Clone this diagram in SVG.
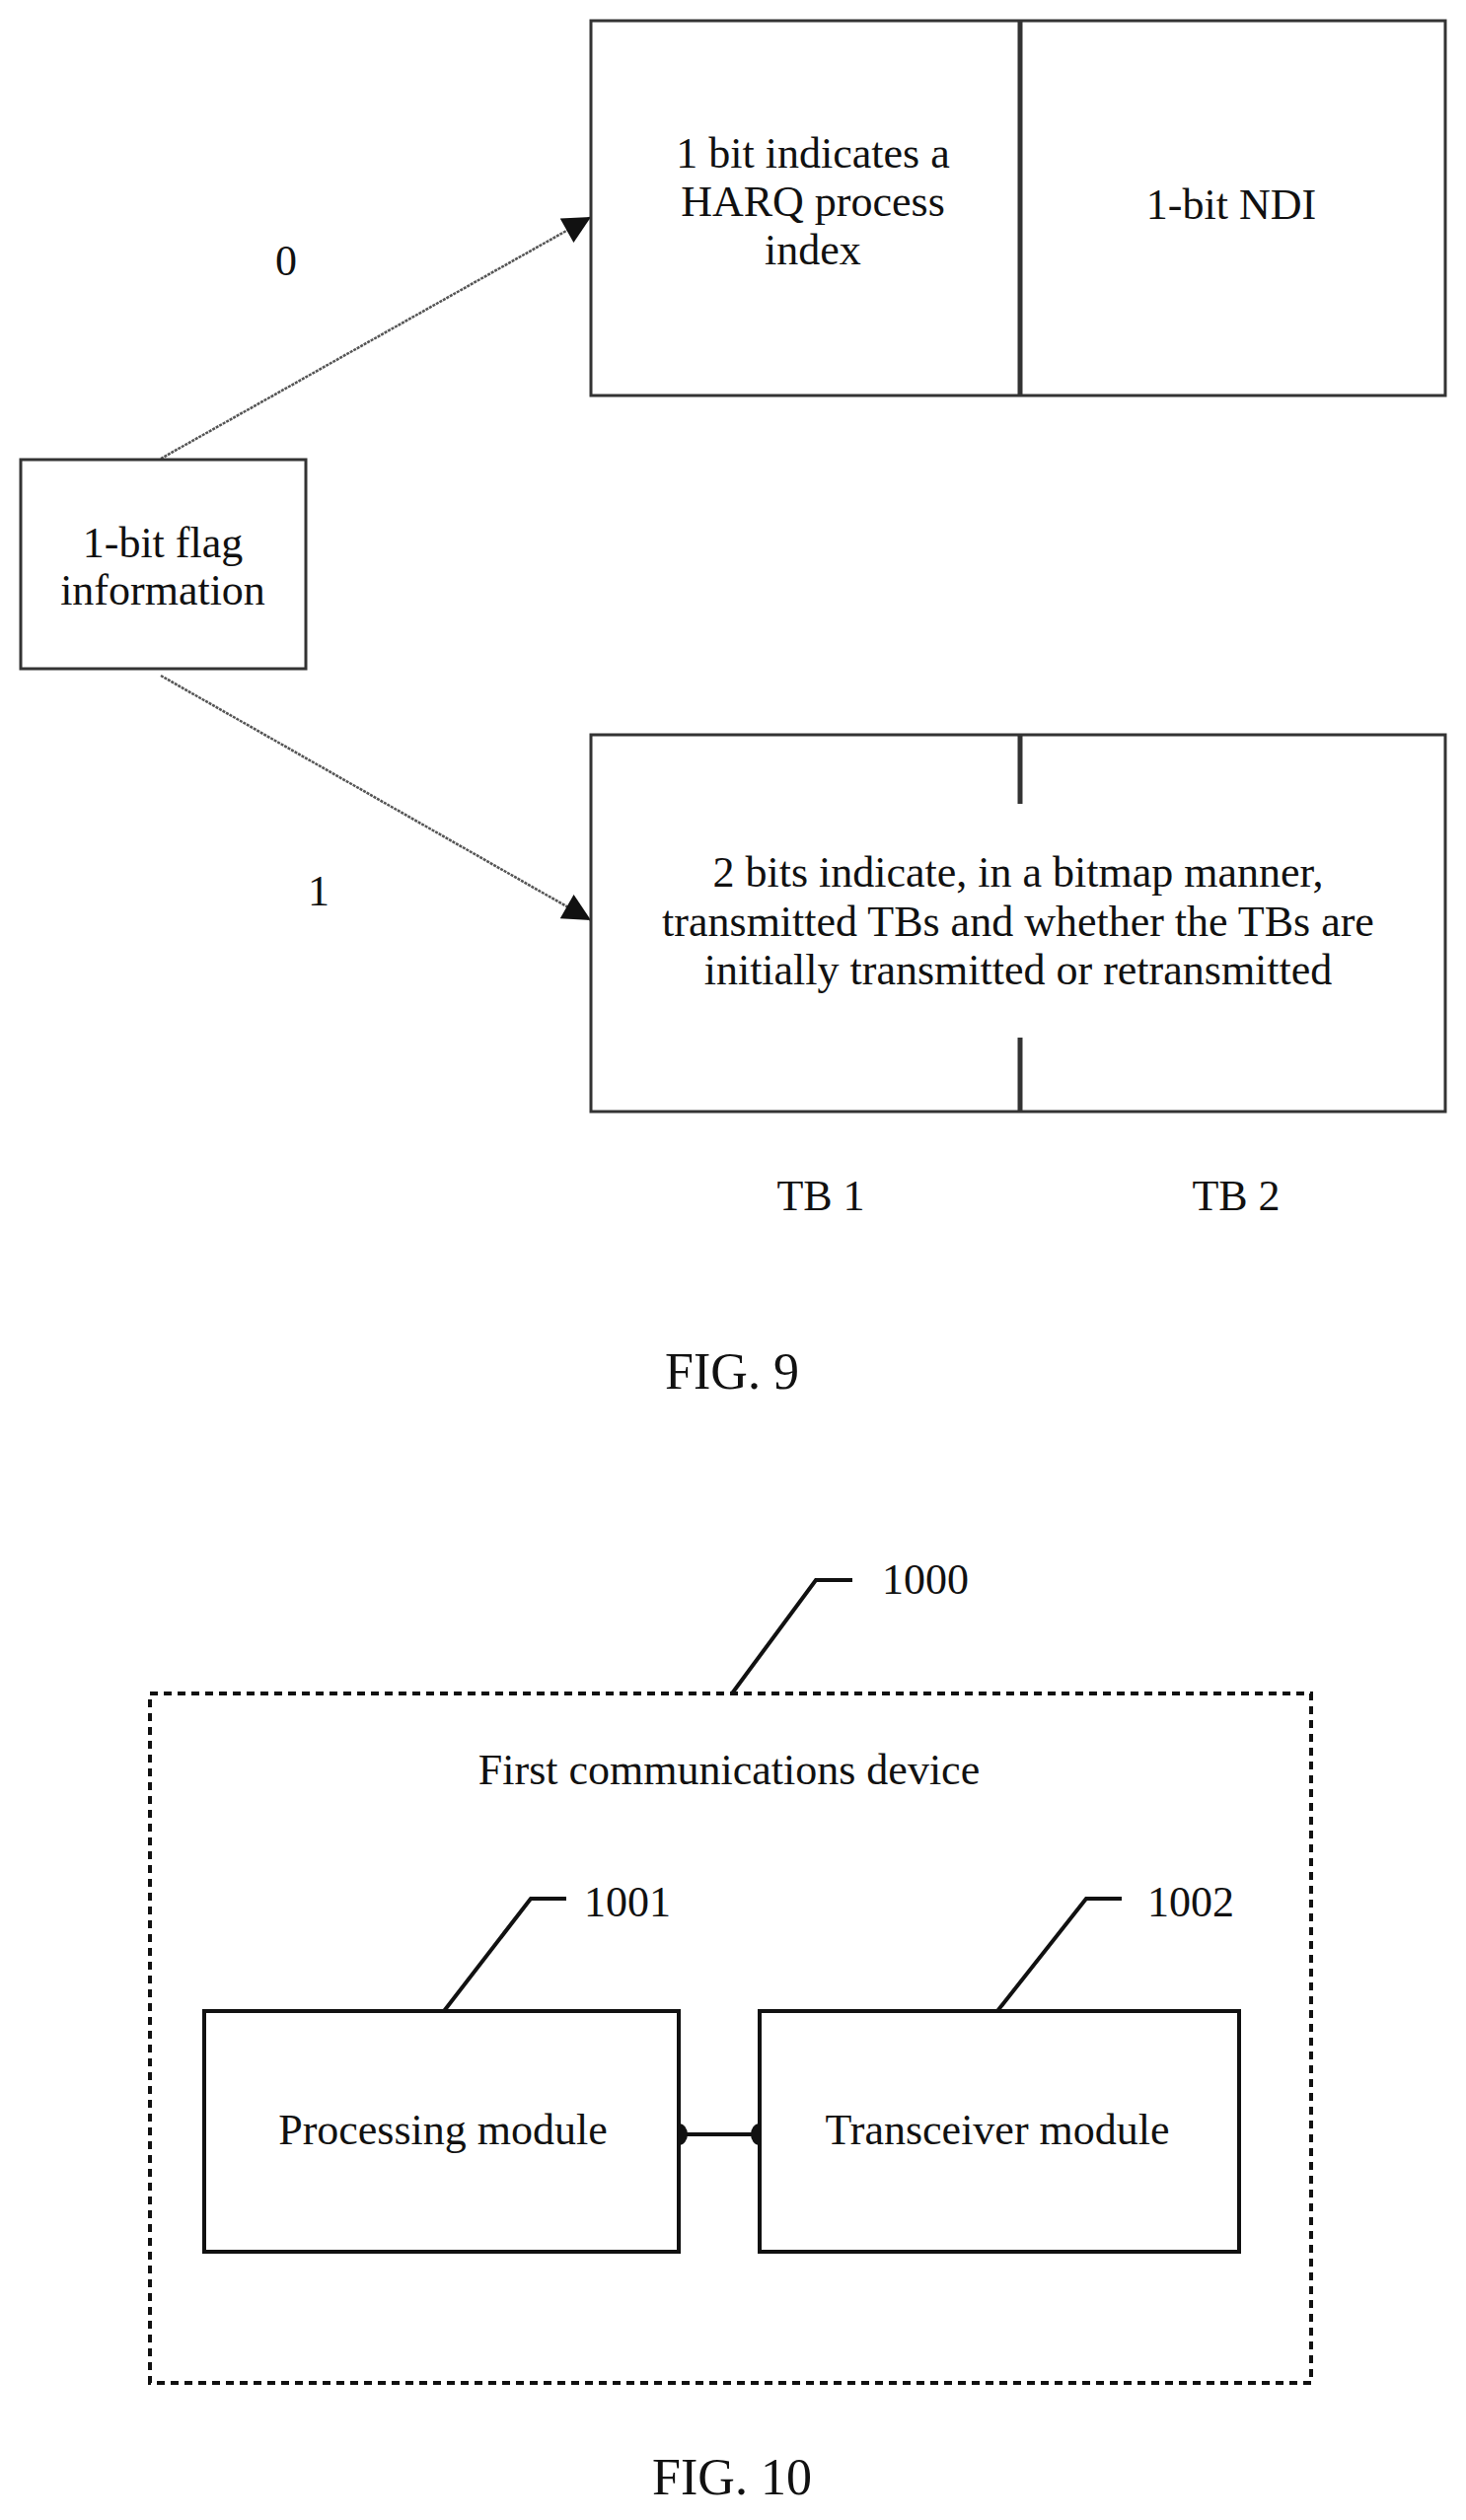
<svg xmlns="http://www.w3.org/2000/svg" width="1486" height="2555" viewBox="0 0 1486 2555">
<style>
text{font-family:"Liberation Serif","Times New Roman",serif;font-size:44px;fill:#111;text-anchor:middle;dominant-baseline:middle}
.fig{font-size:52px}
.box{fill:#fff;stroke:#333;stroke-width:3}
.sbox{fill:#fff;stroke:#111;stroke-width:4}
.div{stroke:#333;stroke-width:5}
.ln{stroke:#555;stroke-width:2.5;fill:none;stroke-dasharray:3 1}
.ld{stroke:#111;stroke-width:4;fill:none}
</style>
<defs>
<marker id="ar" viewBox="0 0 10 10" refX="10" refY="5" markerWidth="36" markerHeight="28" markerUnits="userSpaceOnUse" orient="auto"><path d="M0,0 L10,5 L0,10 z" fill="#111"/></marker>
</defs>
<g id="connectors">
<path class="ln" d="M163,465 L599,220" marker-end="url(#ar)"/>
<path class="ln" d="M163,685 L599,933" marker-end="url(#ar)"/>
<line class="ld" x1="688" y1="2164" x2="770" y2="2164"/>
<ellipse cx="688" cy="2164" rx="9" ry="11" fill="#111"/>
<ellipse cx="770" cy="2164" rx="9" ry="11" fill="#111"/>
</g>
<text x="290" y="269">0</text>
<text x="323" y="908">1</text>
<g id="top">
<rect class="box" x="599" y="21" width="866" height="380"/>
<line class="div" x1="1034" y1="21" x2="1034" y2="401"/>
<text x="824" y="160">1 bit indicates a</text>
<text x="824" y="209">HARQ process</text>
<text x="824" y="258">index</text>
<text x="1248" y="212">1-bit NDI</text>
</g>
<g id="flag">
<rect class="box" x="21" y="466" width="289" height="212"/>
<text x="165" y="555">1-bit flag</text>
<text x="165" y="603">information</text>
</g>
<g id="bottom">
<rect class="box" x="599" y="745" width="866" height="382"/>
<line class="div" x1="1034" y1="745" x2="1034" y2="815"/>
<line class="div" x1="1034" y1="1052" x2="1034" y2="1127"/>
<text x="1032" y="889">2 bits indicate, in a bitmap manner,</text>
<text x="1032" y="939">transmitted TBs and whether the TBs are</text>
<text x="1032" y="988">initially transmitted or retransmitted</text>
</g>
<text x="832" y="1217">TB 1</text>
<text x="1253" y="1217">TB 2</text>
<text class="fig" x="742" y="1396">FIG. 9</text>
<g id="device">
<rect x="152" y="1717" width="1177" height="699" fill="none" stroke="#111" stroke-width="4" stroke-dasharray="8 6"/>
<path class="ld" d="M742,1717 L827,1602 L864,1602"/>
<text x="938" y="1606">1000</text>
<text x="739" y="1799">First communications device</text>
</g>
<g id="processing">
<rect class="sbox" x="207" y="2039" width="481" height="244"/>
<path class="ld" d="M450,2039 L538,1925 L574,1925"/>
<text x="636" y="1933">1001</text>
<text x="449" y="2164">Processing module</text>
</g>
<g id="transceiver">
<rect class="sbox" x="770" y="2039" width="486" height="244"/>
<path class="ld" d="M1011,2039 L1101,1925 L1137,1925"/>
<text x="1207" y="1933">1002</text>
<text x="1011" y="2164">Transceiver module</text>
</g>
<text class="fig" x="742" y="2517">FIG. 10</text>
</svg>
